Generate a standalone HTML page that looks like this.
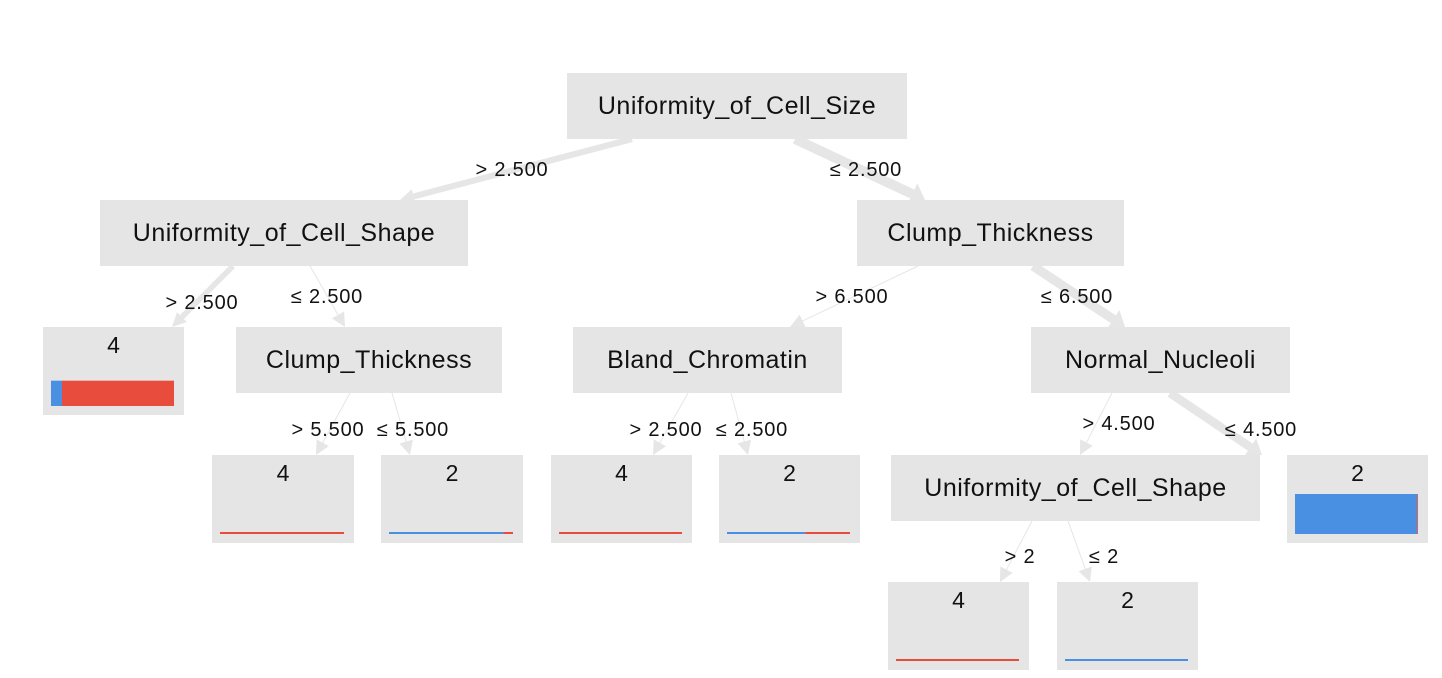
<!DOCTYPE html>
<html><head><meta charset="utf-8"><style>
html,body{margin:0;padding:0;background:#fff;}
svg{display:block;font-family:"Liberation Sans","DejaVu Sans",sans-serif;}
</style></head><body>
<svg id="tree" width="1442" height="678" viewBox="0 0 1442 678"></svg>
<script>
// data
const nodeLabels = ["Uniformity_of_Cell_Size","Uniformity_of_Cell_Shape","Clump_Thickness","4","Clump_Thickness","Bland_Chromatin","Normal_Nucleoli","4","2","4","2","Uniformity_of_Cell_Shape","2","4","2"];
const leafBlue = [0,0,0,17,0,0,0,0,12,0,7,0,298,0,10];
const leafRed  = [0,0,0,173,0,0,0,10,1,10,4,0,2,10,0];
const edgeParent = [0,0,1,1,2,2,4,4,5,5,6,6,11,11];
const edgeChild  = [1,2,3,4,5,6,7,8,9,10,11,12,13,14];
const edgeLabels = ["> 2.500","≤ 2.500","> 2.500","≤ 2.500","> 6.500","≤ 6.500","> 5.500","≤ 5.500","> 2.500","≤ 2.500","> 4.500","≤ 4.500","> 2","≤ 2"];
// layout (not data)
const box = [[567,73,340,66],[100,200,368,66],[857,200,267,66],[43,327,141,88],[236,327,266,66],[573,327,269,66],[1031,327,259,66],
 [212,455,142,88],[381,455,142,88],[551,455,141,88],[719,455,141,88],[891,455,369,66],[1287,455,141,88],[888,582,141,88],[1057,582,141,88]];
const edgeGeom = [[632,400,512,169],[795,925,866,169],[233,172,202,302],[310,345,327,296],[918,790,852,296],[1033,1125,1077,296],
 [350,316,328,429],[392,410,413,429],[688,653,666,429],[731,748,752,429],[1112,1080,1119,423],[1170,1262,1261,429],[1032,1000,1020,556],[1068,1090,1104,556]];

const svg=document.getElementById('tree');
const NS="http://www.w3.org/2000/svg";
function mk(t,a){const e=document.createElementNS(NS,t);for(const k in a)e.setAttribute(k,a[k]);svg.appendChild(e);return e;}
function total(i){let s=leafBlue[i]+leafRed[i];edgeParent.forEach((p,k)=>{if(p===i)s+=total(edgeChild[k]);});return s;}
const rootTotal=total(0);
let maxLeaf=0;leafBlue.forEach((b,i)=>{maxLeaf=Math.max(maxLeaf,b+leafRed[i]);});

edgeParent.forEach((p,k)=>{
  const c=edgeChild[k],g=edgeGeom[k];
  const y1=box[p][1]+box[p][3], y2=box[c][1];
  const w=Math.max(1,total(c)/rootTotal*16);
  const dx=g[1]-g[0],dy=y2-y1,L=Math.hypot(dx,dy),ux=dx/L,uy=dy/L;
  const ah=14,aw=Math.max(7,w*1.2);
  const bx=g[1]-ux*ah,by=y2-uy*ah;
  const ln=mk('line',{x1:g[0],y1:y1,x2:bx,y2:by,stroke:'#e6e6e6','stroke-width':w});
  
  
  const ar=mk('polygon',{points:`${g[1]},${y2} ${bx-uy*aw},${by+ux*aw} ${bx+uy*aw},${by-ux*aw}`,fill:'#e6e6e6'});
  
  
  const t=mk('text',{x:g[2],y:g[3]+7,'text-anchor':'middle','font-size':20,'letter-spacing':0.8,fill:'#111'});
  t.textContent=edgeLabels[k];
  
  
});

nodeLabels.forEach((lab,i)=>{
  const b=box[i];
  const leaf=lab.length<3;
  const r=mk('rect',{x:b[0],y:b[1],width:b[2],height:b[3],fill:'#e5e5e5'});
  
  
  const t=mk('text',{x:b[0]+b[2]/2,y:leaf?b[1]+26:b[1]+b[3]/2+8,'text-anchor':'middle','font-size':leaf?23:25,'letter-spacing':leaf?0:0.5,fill:'#111'});
  t.textContent=lab;
  
  
  if(leaf){
    const tot=leafBlue[i]+leafRed[i];
    const h=Math.max(2,tot/maxLeaf*40);
    const x0=b[0]+8,W=b[2]-18,yb=b[1]+79;
    const bw=W*leafBlue[i]/tot;
    const rb=mk('rect',{x:x0,y:yb-h,width:bw,height:h,fill:'#4a90e2'});
    
    
    const rr=mk('rect',{x:x0+bw,y:yb-h,width:W-bw,height:h,fill:'#e84c3d'});
    
    
  }
});
</script>
</body></html>
